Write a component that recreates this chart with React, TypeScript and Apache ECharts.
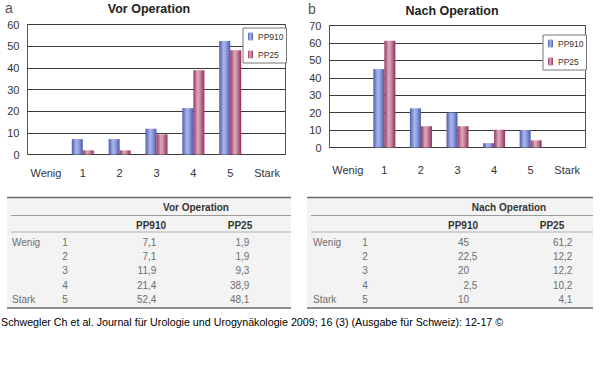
import React, { useEffect, useRef } from "react";
import * as echarts from "echarts";

const categories = ["Wenig", "1", "2", "3", "4", "5", "Stark"];
const levels = ["1", "2", "3", "4", "5"];
const rowLabels = ["Wenig", "", "", "", "Stark"];
const seriesNames = ["PP910", "PP25"];
const vorPP910 = [7.1, 7.1, 11.9, 21.4, 52.4];
const vorPP25 = [1.9, 1.9, 9.3, 38.9, 48.1];
const nachPP910 = [45, 22.5, 20, 2.5, 10];
const nachPP25 = [61.2, 12.2, 12.2, 10.2, 4.1];
const vorMax = 60;
const nachMax = 70;
const footer =
  "Schwegler Ch et al. Journal für Urologie und Urogynäkologie 2009; 16 (3) (Ausgabe für Schweiz): 12-17 ©";

const FONT = "Liberation Sans, Arial, sans-serif";

const blueGrad = new echarts.graphic.LinearGradient(0, 0, 1, 0, [
  { offset: 0, color: "#4c5cb0" },
  { offset: 0.4, color: "#aab5ea" },
  { offset: 0.6, color: "#96a3e2" },
  { offset: 1, color: "#4a59a8" },
]);
const pinkGrad = new echarts.graphic.LinearGradient(0, 0, 1, 0, [
  { offset: 0, color: "#963660" },
  { offset: 0.4, color: "#dcaabd" },
  { offset: 0.6, color: "#c98aa3" },
  { offset: 1, color: "#8e2f5a" },
]);

const pad = (vals: number[]) => ["-", ...vals, "-"];
const fmt = (v: number) => String(v).replace(".", ",");

function table(
  x0: number,
  x1: number,
  title: string,
  titleX: number,
  h1X: number,
  h2X: number,
  labX: number,
  lvlX: number,
  c1X: number,
  c2X: number,
  v1: number[],
  v2: number[]
) {
  const els: any[] = [];
  const top = 197.5;
  const bottom = 308;
  els.push({ type: "rect", shape: { x: x0, y: top, width: x1 - x0, height: bottom - top }, style: { fill: "#f3f3f3" }, silent: true });
  els.push({ type: "line", shape: { x1: x0, y1: top, x2: x1, y2: top }, style: { stroke: "#6a6a6a", lineWidth: 1.5 } });
  els.push({ type: "line", shape: { x1: x0 + 4, y1: 215.5, x2: x1, y2: 215.5 }, style: { stroke: "#9a9a9a", lineWidth: 1 } });
  els.push({ type: "line", shape: { x1: x0 + 4, y1: 232, x2: x1, y2: 232 }, style: { stroke: "#b0b0b0", lineWidth: 1 } });
  els.push({ type: "line", shape: { x1: x0, y1: bottom, x2: x1, y2: bottom }, style: { stroke: "#6a6a6a", lineWidth: 1.5 } });
  const hs = { fontFamily: FONT, fontSize: 10, fontWeight: "bold", fill: "#333", align: "center", verticalAlign: "middle" };
  els.push({ type: "text", x: titleX, y: 207.5, style: { ...hs, text: title } });
  els.push({ type: "text", x: h1X, y: 225.7, style: { ...hs, text: seriesNames[0] } });
  els.push({ type: "text", x: h2X, y: 225.7, style: { ...hs, text: seriesNames[1] } });
  const ts = { fontFamily: FONT, fontSize: 10, fill: "#6e6e6e", verticalAlign: "middle" };
  levels.forEach((lv, i) => {
    const y = 242.3 + i * 14.25;
    if (rowLabels[i]) els.push({ type: "text", x: labX, y, style: { ...ts, text: rowLabels[i], align: "left" } });
    els.push({ type: "text", x: lvlX, y, style: { ...ts, text: lv, align: "center" } });
    [
      [v1[i], c1X],
      [v2[i], c2X],
    ].forEach(([v, cx]) => {
      const parts = fmt(v as number).split(",");
      els.push({ type: "text", x: cx as number, y, style: { ...ts, text: parts[0], align: "right" } });
      if (parts[1] !== undefined)
        els.push({ type: "text", x: cx as number, y, style: { ...ts, text: "," + parts[1], align: "left" } });
    });
  });
  return els;
}

export default function App() {
  const ref = useRef<HTMLDivElement>(null);
  useEffect(() => {
    document.body.style.margin = "0";
    const chart = echarts.init(ref.current!, null, { renderer: "svg" });
    const axisLabel = { fontFamily: FONT, fontSize: 11, color: "#333" };
    const legendBase = {
      orient: "vertical" as const,
      data: seriesNames,
      itemWidth: 5,
      itemHeight: 8,
      itemGap: 9,
      padding: [4, 3, 4, 5],
      borderColor: "#777",
      borderWidth: 1,
      backgroundColor: "#fff",
      textStyle: { fontFamily: FONT, fontSize: 8.5, color: "#333" },
    };
    const bar = (name: string, xi: number, vals: number[], grad: any) => ({
      type: "bar",
      name,
      xAxisIndex: xi,
      yAxisIndex: xi,
      data: pad(vals),
      barWidth: 11,
      barGap: "0%",
      itemStyle: { color: grad },
    });
    chart.setOption({
      animation: false,
      backgroundColor: "#fff",
      title: [
        { text: "Vor Operation", left: 149, top: 9, textAlign: "center", textVerticalAlign: "middle", padding: 0, textStyle: { fontFamily: FONT, fontSize: 12.5, fontWeight: "bold", color: "#222" } },
        { text: "Nach Operation", left: 452, top: 10.7, textAlign: "center", textVerticalAlign: "middle", padding: 0, textStyle: { fontFamily: FONT, fontSize: 12.5, fontWeight: "bold", color: "#222" } },
      ],
      grid: [
        { left: 27.5, top: 24.5, width: 258, height: 130, show: true, borderColor: "#555", borderWidth: 1, backgroundColor: "transparent" },
        { left: 329.5, top: 25.5, width: 256, height: 122, show: true, borderColor: "#555", borderWidth: 1, backgroundColor: "transparent" },
      ],
      legend: [
        { ...legendBase, left: 243, top: 28 },
        { ...legendBase, left: 543, top: 35 },
      ],
      xAxis: [0, 1].map((i) => ({
        type: "category",
        gridIndex: i,
        data: categories,
        axisTick: { show: false },
        axisLine: { show: false },
        axisLabel: { ...axisLabel, margin: i === 0 ? 13 : 17, interval: 0 },
      })),
      yAxis: [0, 1].map((i) => ({
        type: "value",
        gridIndex: i,
        min: 0,
        max: i === 0 ? vorMax : nachMax,
        interval: 10,
        axisLine: { show: false },
        axisTick: { show: false },
        splitLine: { lineStyle: { color: "#3a3a3a", width: 1 } },
        axisLabel: { ...axisLabel, margin: 8 },
      })),
      series: [
        bar(seriesNames[0], 0, vorPP910, blueGrad),
        bar(seriesNames[1], 0, vorPP25, pinkGrad),
        bar(seriesNames[0], 1, nachPP910, blueGrad),
        bar(seriesNames[1], 1, nachPP25, pinkGrad),
      ],
      graphic: [
        { type: "text", x: 5, y: 8, style: { text: "a", fontFamily: FONT, fontSize: 14, fill: "#555", verticalAlign: "middle" } },
        { type: "text", x: 308, y: 9, style: { text: "b", fontFamily: FONT, fontSize: 14, fill: "#555", verticalAlign: "middle" } },
        ...table(7, 291, "Vor Operation", 196, 151, 240, 12, 65, 148, 241, vorPP910, vorPP25),
        ...table(307, 593, "Nach Operation", 509, 463, 552, 313, 365, 469, 564, nachPP910, nachPP25),
        { type: "text", x: 1, y: 322, style: { text: footer, fontFamily: FONT, fontSize: 10.7, fill: "#000", verticalAlign: "middle" } },
      ],
    });
    return () => chart.dispose();
  }, []);
  return <div ref={ref} style={{ width: 600, height: 372 }} />;
}
